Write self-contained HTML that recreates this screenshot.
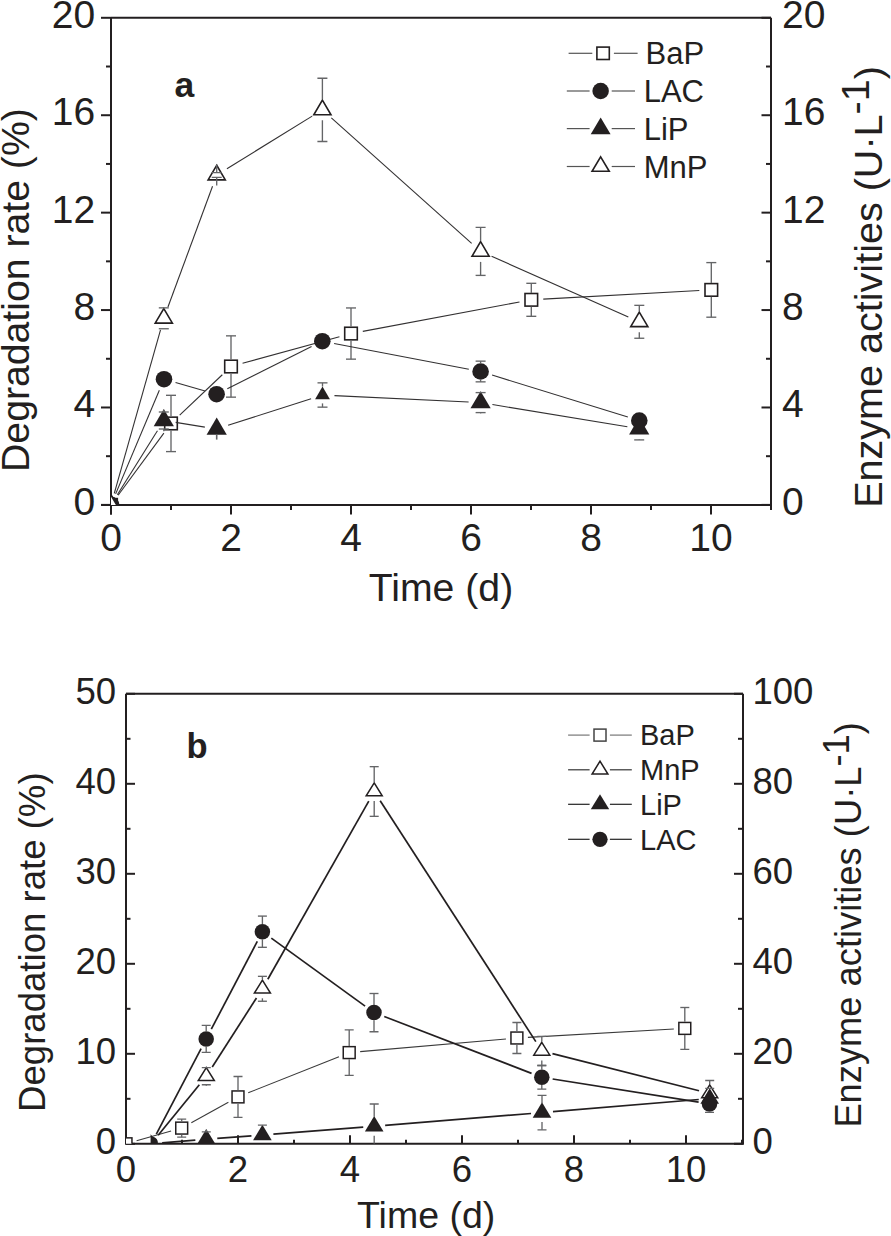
<!DOCTYPE html>
<html><head><meta charset="utf-8"><title>Degradation rate and enzyme activities</title>
<style>html,body{margin:0;padding:0;background:#fff;}svg{display:block;}text{font-family:"Liberation Sans",sans-serif;}</style>
</head><body>
<svg width="891" height="1236" viewBox="0 0 891 1236" font-family="Liberation Sans, sans-serif" fill="#231f20">
<rect width="891" height="1236" fill="#fff"/>
<defs><clipPath id="ca"><rect x="111" y="17.8" width="660" height="487.1"/></clipPath><clipPath id="cb"><rect x="126" y="693.7" width="617" height="450.1"/></clipPath></defs>
<line x1="111" y1="17.8" x2="771" y2="17.8" stroke="#231f20" stroke-width="2.0" />
<line x1="111" y1="17.8" x2="111" y2="514.4" stroke="#231f20" stroke-width="2.0" />
<line x1="771" y1="17.8" x2="771" y2="509.6" stroke="#231f20" stroke-width="2.0" />
<line x1="101.2" y1="504.9" x2="771" y2="504.9" stroke="#231f20" stroke-width="2.0" />
<line x1="101" y1="504.9" x2="111" y2="504.9" stroke="#231f20" stroke-width="2.0" />
<line x1="106" y1="456.19" x2="111" y2="456.19" stroke="#231f20" stroke-width="2.0" />
<line x1="101" y1="407.48" x2="111" y2="407.48" stroke="#231f20" stroke-width="2.0" />
<line x1="106" y1="358.77" x2="111" y2="358.77" stroke="#231f20" stroke-width="2.0" />
<line x1="101" y1="310.06" x2="111" y2="310.06" stroke="#231f20" stroke-width="2.0" />
<line x1="106" y1="261.35" x2="111" y2="261.35" stroke="#231f20" stroke-width="2.0" />
<line x1="101" y1="212.64" x2="111" y2="212.64" stroke="#231f20" stroke-width="2.0" />
<line x1="106" y1="163.93" x2="111" y2="163.93" stroke="#231f20" stroke-width="2.0" />
<line x1="101" y1="115.22" x2="111" y2="115.22" stroke="#231f20" stroke-width="2.0" />
<line x1="106" y1="66.51" x2="111" y2="66.51" stroke="#231f20" stroke-width="2.0" />
<line x1="101" y1="17.8" x2="111" y2="17.8" stroke="#231f20" stroke-width="2.0" />
<line x1="761.5" y1="504.9" x2="771" y2="504.9" stroke="#231f20" stroke-width="2.0" />
<line x1="766" y1="456.19" x2="771" y2="456.19" stroke="#231f20" stroke-width="2.0" />
<line x1="761.5" y1="407.48" x2="771" y2="407.48" stroke="#231f20" stroke-width="2.0" />
<line x1="766" y1="358.77" x2="771" y2="358.77" stroke="#231f20" stroke-width="2.0" />
<line x1="761.5" y1="310.06" x2="771" y2="310.06" stroke="#231f20" stroke-width="2.0" />
<line x1="766" y1="261.35" x2="771" y2="261.35" stroke="#231f20" stroke-width="2.0" />
<line x1="761.5" y1="212.64" x2="771" y2="212.64" stroke="#231f20" stroke-width="2.0" />
<line x1="766" y1="163.93" x2="771" y2="163.93" stroke="#231f20" stroke-width="2.0" />
<line x1="761.5" y1="115.22" x2="771" y2="115.22" stroke="#231f20" stroke-width="2.0" />
<line x1="766" y1="66.51" x2="771" y2="66.51" stroke="#231f20" stroke-width="2.0" />
<line x1="761.5" y1="17.8" x2="771" y2="17.8" stroke="#231f20" stroke-width="2.0" />
<line x1="111" y1="504.9" x2="111" y2="514.4" stroke="#231f20" stroke-width="2.0" />
<line x1="171" y1="504.9" x2="171" y2="509.9" stroke="#231f20" stroke-width="2.0" />
<line x1="231" y1="504.9" x2="231" y2="514.4" stroke="#231f20" stroke-width="2.0" />
<line x1="291" y1="504.9" x2="291" y2="509.9" stroke="#231f20" stroke-width="2.0" />
<line x1="351" y1="504.9" x2="351" y2="514.4" stroke="#231f20" stroke-width="2.0" />
<line x1="411" y1="504.9" x2="411" y2="509.9" stroke="#231f20" stroke-width="2.0" />
<line x1="471" y1="504.9" x2="471" y2="514.4" stroke="#231f20" stroke-width="2.0" />
<line x1="531" y1="504.9" x2="531" y2="509.9" stroke="#231f20" stroke-width="2.0" />
<line x1="591" y1="504.9" x2="591" y2="514.4" stroke="#231f20" stroke-width="2.0" />
<line x1="651" y1="504.9" x2="651" y2="509.9" stroke="#231f20" stroke-width="2.0" />
<line x1="711" y1="504.9" x2="711" y2="514.4" stroke="#231f20" stroke-width="2.0" />
<line x1="771" y1="504.9" x2="771" y2="509.9" stroke="#231f20" stroke-width="2.0" />
<text x="95.2" y="514.86" font-size="39" text-anchor="end">0</text>
<text x="95.2" y="417.44" font-size="39" text-anchor="end">4</text>
<text x="95.2" y="320.02" font-size="39" text-anchor="end">8</text>
<text x="95.2" y="222.6" font-size="39" text-anchor="end">12</text>
<text x="95.2" y="125.18" font-size="39" text-anchor="end">16</text>
<text x="95.2" y="27.76" font-size="39" text-anchor="end">20</text>
<text x="782" y="514.86" font-size="39" text-anchor="start">0</text>
<text x="782" y="417.44" font-size="39" text-anchor="start">4</text>
<text x="782" y="320.02" font-size="39" text-anchor="start">8</text>
<text x="782" y="222.6" font-size="39" text-anchor="start">12</text>
<text x="782" y="125.18" font-size="39" text-anchor="start">16</text>
<text x="782" y="27.76" font-size="39" text-anchor="start">20</text>
<text x="111" y="550.5" font-size="39" text-anchor="middle">0</text>
<text x="231" y="550.5" font-size="39" text-anchor="middle">2</text>
<text x="351" y="550.5" font-size="39" text-anchor="middle">4</text>
<text x="471" y="550.5" font-size="39" text-anchor="middle">6</text>
<text x="591" y="550.5" font-size="39" text-anchor="middle">8</text>
<text x="711" y="550.5" font-size="39" text-anchor="middle">10</text>
<text x="441" y="600.9" font-size="39.2" text-anchor="middle">Time (d)</text>
<text x="28.8" y="290.1" font-size="39.2" text-anchor="middle" transform="rotate(-90 28.8 290.1)">Degradation rate (%)</text>
<text x="882" y="507.8" font-size="39.55" transform="rotate(-90 882 507.8)">Enzyme activities (U·L<tspan dy="-13">-1</tspan><tspan dy="13">)</tspan></text>
<text x="174.5" y="96.5" font-size="35.5" text-anchor="start" font-weight="bold">a</text>
<g clip-path="url(#ca)">
<line x1="118.12" y1="495.24" x2="163.88" y2="433.11" stroke="#333132" stroke-width="1.1" />
<line x1="179.7" y1="415.19" x2="222.3" y2="374.76" stroke="#333132" stroke-width="1.1" />
<line x1="242.57" y1="363.32" x2="339.43" y2="336.73" stroke="#333132" stroke-width="1.1" />
<line x1="362.8" y1="331.34" x2="519.5" y2="302.01" stroke="#333132" stroke-width="1.1" />
<line x1="543.28" y1="299.14" x2="699.32" y2="290.56" stroke="#333132" stroke-width="1.1" />
<rect x="104.7" y="498.6" width="12.6" height="12.6" fill="#fff" stroke="#231f20" stroke-width="1.6"/>
<rect x="164.7" y="417.15" width="12.6" height="12.6" fill="#fff" stroke="#231f20" stroke-width="1.6"/>
<rect x="224.7" y="360.2" width="12.6" height="12.6" fill="#fff" stroke="#231f20" stroke-width="1.6"/>
<rect x="344.7" y="327.25" width="12.6" height="12.6" fill="#fff" stroke="#231f20" stroke-width="1.6"/>
<rect x="525" y="293.5" width="12.6" height="12.6" fill="#fff" stroke="#231f20" stroke-width="1.6"/>
<rect x="705" y="283.6" width="12.6" height="12.6" fill="#fff" stroke="#231f20" stroke-width="1.6"/>
<line x1="171" y1="416.55" x2="171" y2="395.3" stroke="#646567" stroke-width="1.35" />
<line x1="166" y1="395.3" x2="176" y2="395.3" stroke="#646567" stroke-width="1.35" />
<line x1="171" y1="430.35" x2="171" y2="451.6" stroke="#646567" stroke-width="1.35" />
<line x1="166" y1="451.6" x2="176" y2="451.6" stroke="#646567" stroke-width="1.35" />
<line x1="231" y1="359.6" x2="231" y2="335.85" stroke="#646567" stroke-width="1.35" />
<line x1="226" y1="335.85" x2="236" y2="335.85" stroke="#646567" stroke-width="1.35" />
<line x1="231" y1="373.4" x2="231" y2="397.15" stroke="#646567" stroke-width="1.35" />
<line x1="226" y1="397.15" x2="236" y2="397.15" stroke="#646567" stroke-width="1.35" />
<line x1="351" y1="326.65" x2="351" y2="307.95" stroke="#646567" stroke-width="1.35" />
<line x1="346" y1="307.95" x2="356" y2="307.95" stroke="#646567" stroke-width="1.35" />
<line x1="351" y1="340.45" x2="351" y2="359.15" stroke="#646567" stroke-width="1.35" />
<line x1="346" y1="359.15" x2="356" y2="359.15" stroke="#646567" stroke-width="1.35" />
<line x1="531.3" y1="292.9" x2="531.3" y2="283.3" stroke="#646567" stroke-width="1.35" />
<line x1="526.3" y1="283.3" x2="536.3" y2="283.3" stroke="#646567" stroke-width="1.35" />
<line x1="531.3" y1="306.7" x2="531.3" y2="316.3" stroke="#646567" stroke-width="1.35" />
<line x1="526.3" y1="316.3" x2="536.3" y2="316.3" stroke="#646567" stroke-width="1.35" />
<line x1="711.3" y1="283" x2="711.3" y2="262.6" stroke="#646567" stroke-width="1.35" />
<line x1="706.3" y1="262.6" x2="716.3" y2="262.6" stroke="#646567" stroke-width="1.35" />
<line x1="711.3" y1="296.8" x2="711.3" y2="317.2" stroke="#646567" stroke-width="1.35" />
<line x1="706.3" y1="317.2" x2="716.3" y2="317.2" stroke="#646567" stroke-width="1.35" />
<line x1="115.66" y1="493.84" x2="159.34" y2="390.26" stroke="#333132" stroke-width="1.1" />
<line x1="175.54" y1="382.49" x2="205.06" y2="390.91" stroke="#333132" stroke-width="1.1" />
<line x1="227.33" y1="388.82" x2="311.57" y2="346.58" stroke="#333132" stroke-width="1.1" />
<line x1="334.09" y1="343.46" x2="468.81" y2="369.24" stroke="#333132" stroke-width="1.1" />
<line x1="492.07" y1="375.04" x2="627.83" y2="416.96" stroke="#333132" stroke-width="1.1" />
<circle cx="111" cy="504.9" r="8.3" fill="#231f20"/>
<circle cx="164" cy="379.2" r="8.3" fill="#231f20"/>
<circle cx="216.6" cy="394.2" r="8.3" fill="#231f20"/>
<circle cx="322.3" cy="341.2" r="8.3" fill="#231f20"/>
<circle cx="480.6" cy="371.5" r="8.3" fill="#231f20"/>
<circle cx="639.3" cy="420.5" r="8.3" fill="#231f20"/>
<line x1="480.6" y1="363.3" x2="480.6" y2="361.15" stroke="#646567" stroke-width="1.35" />
<line x1="475.6" y1="361.15" x2="485.6" y2="361.15" stroke="#646567" stroke-width="1.35" />
<line x1="480.6" y1="379.7" x2="480.6" y2="381.85" stroke="#646567" stroke-width="1.35" />
<line x1="475.6" y1="381.85" x2="485.6" y2="381.85" stroke="#646567" stroke-width="1.35" />
<line x1="117.36" y1="494.73" x2="157.44" y2="430.67" stroke="#333132" stroke-width="1.1" />
<line x1="175.65" y1="422.4" x2="204.85" y2="427.1" stroke="#333132" stroke-width="1.1" />
<line x1="228.12" y1="425.33" x2="311.08" y2="398.67" stroke="#333132" stroke-width="1.1" />
<line x1="334.49" y1="395.58" x2="468.61" y2="402.02" stroke="#333132" stroke-width="1.1" />
<line x1="492.44" y1="404.55" x2="627.36" y2="426.75" stroke="#333132" stroke-width="1.1" />
<polygon points="111,493.43 121.1,510.63 100.9,510.63" fill="#231f20"/>
<polygon points="163.8,409.03 173.9,426.23 153.7,426.23" fill="#231f20"/>
<polygon points="216.7,417.53 226.8,434.73 206.6,434.73" fill="#231f20"/>
<polygon points="322.5,386.6 329.9,399.2 315.1,399.2" fill="#231f20"/>
<polygon points="480.6,391.13 490.7,408.33 470.5,408.33" fill="#231f20"/>
<polygon points="639.2,417.23 649.3,434.43 629.1,434.43" fill="#231f20"/>
<line x1="163.8" y1="409.7" x2="163.8" y2="412" stroke="#646567" stroke-width="1.35" />
<line x1="158.8" y1="412" x2="168.8" y2="412" stroke="#646567" stroke-width="1.35" />
<line x1="163.8" y1="431.3" x2="163.8" y2="429" stroke="#646567" stroke-width="1.35" />
<line x1="158.8" y1="429" x2="168.8" y2="429" stroke="#646567" stroke-width="1.35" />
<line x1="322.5" y1="386.6" x2="322.5" y2="382.85" stroke="#646567" stroke-width="1.35" />
<line x1="317.5" y1="382.85" x2="327.5" y2="382.85" stroke="#646567" stroke-width="1.35" />
<line x1="322.5" y1="403.4" x2="322.5" y2="407.15" stroke="#646567" stroke-width="1.35" />
<line x1="317.5" y1="407.15" x2="327.5" y2="407.15" stroke="#646567" stroke-width="1.35" />
<line x1="480.6" y1="391.8" x2="480.6" y2="392.6" stroke="#646567" stroke-width="1.35" />
<line x1="475.6" y1="392.6" x2="485.6" y2="392.6" stroke="#646567" stroke-width="1.35" />
<line x1="480.6" y1="413.4" x2="480.6" y2="412.6" stroke="#646567" stroke-width="1.35" />
<line x1="475.6" y1="412.6" x2="485.6" y2="412.6" stroke="#646567" stroke-width="1.35" />
<line x1="639.2" y1="439.5" x2="639.2" y2="439.9" stroke="#646567" stroke-width="1.35" />
<line x1="634.2" y1="439.9" x2="644.2" y2="439.9" stroke="#646567" stroke-width="1.35" />
<line x1="216.7" y1="434.6" x2="216.7" y2="439.6" stroke="#646567" stroke-width="1.6" />
<line x1="114.27" y1="493.35" x2="160.53" y2="329.85" stroke="#333132" stroke-width="1.1" />
<line x1="167.96" y1="307.04" x2="212.54" y2="186.26" stroke="#333132" stroke-width="1.1" />
<line x1="226.92" y1="168.7" x2="312.18" y2="116.15" stroke="#333132" stroke-width="1.1" />
<line x1="331.34" y1="117.85" x2="471.66" y2="243.4" stroke="#333132" stroke-width="1.1" />
<line x1="491.57" y1="256.27" x2="628.33" y2="316.93" stroke="#333132" stroke-width="1.1" />
<polygon points="111,495.17 119.59,509.77 102.41,509.77" fill="#fff" stroke="#231f20" stroke-width="1.6" stroke-linejoin="miter"/>
<polygon points="163.8,308.57 172.39,323.17 155.21,323.17" fill="#fff" stroke="#231f20" stroke-width="1.6" stroke-linejoin="miter"/>
<polygon points="216.7,165.27 225.29,179.87 208.11,179.87" fill="#fff" stroke="#231f20" stroke-width="1.6" stroke-linejoin="miter"/>
<polygon points="322.4,100.12 330.99,114.72 313.81,114.72" fill="#fff" stroke="#231f20" stroke-width="1.6" stroke-linejoin="miter"/>
<polygon points="480.6,241.67 489.19,256.27 472.01,256.27" fill="#fff" stroke="#231f20" stroke-width="1.6" stroke-linejoin="miter"/>
<polygon points="639.3,312.07 647.89,326.67 630.71,326.67" fill="#fff" stroke="#231f20" stroke-width="1.6" stroke-linejoin="miter"/>
<line x1="163.8" y1="307.8" x2="163.8" y2="307.85" stroke="#646567" stroke-width="1.35" />
<line x1="158.8" y1="307.85" x2="168.8" y2="307.85" stroke="#646567" stroke-width="1.35" />
<line x1="163.8" y1="328.8" x2="163.8" y2="328.75" stroke="#646567" stroke-width="1.35" />
<line x1="158.8" y1="328.75" x2="168.8" y2="328.75" stroke="#646567" stroke-width="1.35" />
<line x1="216.7" y1="164.5" x2="216.7" y2="172.6" stroke="#646567" stroke-width="1.35" />
<line x1="211.7" y1="172.6" x2="221.7" y2="172.6" stroke="#646567" stroke-width="1.35" />
<line x1="216.7" y1="185.5" x2="216.7" y2="177.4" stroke="#646567" stroke-width="1.35" />
<line x1="211.7" y1="177.4" x2="221.7" y2="177.4" stroke="#646567" stroke-width="1.35" />
<line x1="322.4" y1="99.35" x2="322.4" y2="78.2" stroke="#646567" stroke-width="1.35" />
<line x1="317.4" y1="78.2" x2="327.4" y2="78.2" stroke="#646567" stroke-width="1.35" />
<line x1="322.4" y1="120.35" x2="322.4" y2="141.5" stroke="#646567" stroke-width="1.35" />
<line x1="317.4" y1="141.5" x2="327.4" y2="141.5" stroke="#646567" stroke-width="1.35" />
<line x1="480.6" y1="240.9" x2="480.6" y2="227.4" stroke="#646567" stroke-width="1.35" />
<line x1="475.6" y1="227.4" x2="485.6" y2="227.4" stroke="#646567" stroke-width="1.35" />
<line x1="480.6" y1="261.9" x2="480.6" y2="275.4" stroke="#646567" stroke-width="1.35" />
<line x1="475.6" y1="275.4" x2="485.6" y2="275.4" stroke="#646567" stroke-width="1.35" />
<line x1="639.3" y1="311.3" x2="639.3" y2="305.35" stroke="#646567" stroke-width="1.35" />
<line x1="634.3" y1="305.35" x2="644.3" y2="305.35" stroke="#646567" stroke-width="1.35" />
<line x1="639.3" y1="332.3" x2="639.3" y2="338.25" stroke="#646567" stroke-width="1.35" />
<line x1="634.3" y1="338.25" x2="644.3" y2="338.25" stroke="#646567" stroke-width="1.35" />
</g>
<line x1="568.6" y1="53.3" x2="592.3" y2="53.3" stroke="#555" stroke-width="1.2" />
<line x1="613.9" y1="53.3" x2="637.6" y2="53.3" stroke="#555" stroke-width="1.2" />
<rect x="596.9" y="47.1" width="12.4" height="12.4" fill="#fff" stroke="#231f20" stroke-width="1.6"/>
<text x="645.5" y="64.4" font-size="31" text-anchor="start">BaP</text>
<line x1="566.8" y1="91" x2="589.6" y2="91" stroke="#555" stroke-width="1.2" />
<line x1="611.7" y1="91" x2="635" y2="91" stroke="#555" stroke-width="1.2" />
<circle cx="600.65" cy="91" r="8.25" fill="#231f20"/>
<text x="643.7" y="102.1" font-size="31" text-anchor="start">LAC</text>
<line x1="566.8" y1="128.6" x2="589.6" y2="128.6" stroke="#555" stroke-width="1.2" />
<line x1="611.7" y1="128.6" x2="635" y2="128.6" stroke="#555" stroke-width="1.2" />
<polygon points="600.65,117.53 610.6,134.13 590.7,134.13" fill="#231f20"/>
<text x="643.7" y="139.7" font-size="31" text-anchor="start">LiP</text>
<line x1="566.8" y1="166.5" x2="589.6" y2="166.5" stroke="#555" stroke-width="1.2" />
<line x1="611.7" y1="166.5" x2="635" y2="166.5" stroke="#555" stroke-width="1.2" />
<polygon points="600.65,156.9 609.24,171.3 592.06,171.3" fill="#fff" stroke="#231f20" stroke-width="1.6" stroke-linejoin="miter"/>
<text x="643.7" y="177.6" font-size="31" text-anchor="start">MnP</text>
<line x1="126" y1="693.7" x2="743" y2="693.7" stroke="#231f20" stroke-width="2.0" />
<line x1="126" y1="693.7" x2="126" y2="1143.8" stroke="#231f20" stroke-width="2.0" />
<line x1="743" y1="693.7" x2="743" y2="1143.8" stroke="#231f20" stroke-width="2.0" />
<line x1="125" y1="1143.8" x2="744" y2="1143.8" stroke="#231f20" stroke-width="2.0" />
<line x1="126" y1="1143.8" x2="135" y2="1143.8" stroke="#231f20" stroke-width="2.0" />
<line x1="126" y1="1098.8" x2="130.5" y2="1098.8" stroke="#231f20" stroke-width="2.0" />
<line x1="126" y1="1053.8" x2="135" y2="1053.8" stroke="#231f20" stroke-width="2.0" />
<line x1="126" y1="1008.8" x2="130.5" y2="1008.8" stroke="#231f20" stroke-width="2.0" />
<line x1="126" y1="963.8" x2="135" y2="963.8" stroke="#231f20" stroke-width="2.0" />
<line x1="126" y1="918.8" x2="130.5" y2="918.8" stroke="#231f20" stroke-width="2.0" />
<line x1="126" y1="873.8" x2="135" y2="873.8" stroke="#231f20" stroke-width="2.0" />
<line x1="126" y1="828.8" x2="130.5" y2="828.8" stroke="#231f20" stroke-width="2.0" />
<line x1="126" y1="783.8" x2="135" y2="783.8" stroke="#231f20" stroke-width="2.0" />
<line x1="126" y1="738.8" x2="130.5" y2="738.8" stroke="#231f20" stroke-width="2.0" />
<line x1="126" y1="693.8" x2="135" y2="693.8" stroke="#231f20" stroke-width="2.0" />
<line x1="734" y1="1143.8" x2="743" y2="1143.8" stroke="#231f20" stroke-width="2.0" />
<line x1="738" y1="1098.8" x2="743" y2="1098.8" stroke="#231f20" stroke-width="2.0" />
<line x1="734" y1="1053.8" x2="743" y2="1053.8" stroke="#231f20" stroke-width="2.0" />
<line x1="738" y1="1008.8" x2="743" y2="1008.8" stroke="#231f20" stroke-width="2.0" />
<line x1="734" y1="963.8" x2="743" y2="963.8" stroke="#231f20" stroke-width="2.0" />
<line x1="738" y1="918.8" x2="743" y2="918.8" stroke="#231f20" stroke-width="2.0" />
<line x1="734" y1="873.8" x2="743" y2="873.8" stroke="#231f20" stroke-width="2.0" />
<line x1="738" y1="828.8" x2="743" y2="828.8" stroke="#231f20" stroke-width="2.0" />
<line x1="734" y1="783.8" x2="743" y2="783.8" stroke="#231f20" stroke-width="2.0" />
<line x1="738" y1="738.8" x2="743" y2="738.8" stroke="#231f20" stroke-width="2.0" />
<line x1="734" y1="693.8" x2="743" y2="693.8" stroke="#231f20" stroke-width="2.0" />
<line x1="126" y1="1143.8" x2="126" y2="1135.3" stroke="#231f20" stroke-width="2.0" />
<line x1="182" y1="1143.8" x2="182" y2="1139.8" stroke="#231f20" stroke-width="2.0" />
<line x1="238" y1="1143.8" x2="238" y2="1135.3" stroke="#231f20" stroke-width="2.0" />
<line x1="294" y1="1143.8" x2="294" y2="1139.8" stroke="#231f20" stroke-width="2.0" />
<line x1="350" y1="1143.8" x2="350" y2="1135.3" stroke="#231f20" stroke-width="2.0" />
<line x1="406" y1="1143.8" x2="406" y2="1139.8" stroke="#231f20" stroke-width="2.0" />
<line x1="462" y1="1143.8" x2="462" y2="1135.3" stroke="#231f20" stroke-width="2.0" />
<line x1="518" y1="1143.8" x2="518" y2="1139.8" stroke="#231f20" stroke-width="2.0" />
<line x1="574" y1="1143.8" x2="574" y2="1135.3" stroke="#231f20" stroke-width="2.0" />
<line x1="630" y1="1143.8" x2="630" y2="1139.8" stroke="#231f20" stroke-width="2.0" />
<line x1="686" y1="1143.8" x2="686" y2="1135.3" stroke="#231f20" stroke-width="2.0" />
<line x1="742" y1="1143.8" x2="742" y2="1139.8" stroke="#231f20" stroke-width="2.0" />
<text x="116.1" y="1153.9" font-size="36.6" text-anchor="end">0</text>
<text x="116.1" y="1063.9" font-size="36.6" text-anchor="end">10</text>
<text x="116.1" y="973.9" font-size="36.6" text-anchor="end">20</text>
<text x="116.1" y="883.9" font-size="36.6" text-anchor="end">30</text>
<text x="116.1" y="793.9" font-size="36.6" text-anchor="end">40</text>
<text x="116.1" y="703.9" font-size="36.6" text-anchor="end">50</text>
<text x="752.4" y="1153.9" font-size="36.6" text-anchor="start">0</text>
<text x="752.4" y="1063.9" font-size="36.6" text-anchor="start">20</text>
<text x="752.4" y="973.9" font-size="36.6" text-anchor="start">40</text>
<text x="752.4" y="883.9" font-size="36.6" text-anchor="start">60</text>
<text x="752.4" y="793.9" font-size="36.6" text-anchor="start">80</text>
<text x="752.4" y="703.9" font-size="36.6" text-anchor="start">100</text>
<text x="126" y="1182.1" font-size="36.6" text-anchor="middle">0</text>
<text x="238" y="1182.1" font-size="36.6" text-anchor="middle">2</text>
<text x="350" y="1182.1" font-size="36.6" text-anchor="middle">4</text>
<text x="462" y="1182.1" font-size="36.6" text-anchor="middle">6</text>
<text x="574" y="1182.1" font-size="36.6" text-anchor="middle">8</text>
<text x="686" y="1182.1" font-size="36.6" text-anchor="middle">10</text>
<text x="426.2" y="1228.1" font-size="37.5" text-anchor="middle">Time (d)</text>
<text x="45" y="942.2" font-size="36.6" text-anchor="middle" transform="rotate(-90 45 942.2)">Degradation rate (%)</text>
<text x="861.2" y="1127.6" font-size="36.3" transform="rotate(-90 861.2 1127.6)">Enzyme activities (U·L<tspan dy="-12">-1</tspan><tspan dy="12">)</tspan></text>
<text x="186.5" y="758" font-size="34.5" text-anchor="start" font-weight="bold">b</text>
<g clip-path="url(#cb)">
<line x1="136.59" y1="1140.82" x2="171.11" y2="1131.08" stroke="#3a3a3a" stroke-width="1.1" />
<line x1="191.32" y1="1122.77" x2="228.38" y2="1102.23" stroke="#3a3a3a" stroke-width="1.1" />
<line x1="248.22" y1="1092.83" x2="338.98" y2="1056.67" stroke="#3a3a3a" stroke-width="1.1" />
<line x1="360.16" y1="1051.65" x2="505.94" y2="1038.95" stroke="#3a3a3a" stroke-width="1.1" />
<line x1="527.88" y1="1037.37" x2="673.82" y2="1029.03" stroke="#3a3a3a" stroke-width="1.1" />
<rect x="120.05" y="1137.85" width="11.9" height="11.9" fill="#fff" stroke="#231f20" stroke-width="1.5"/>
<rect x="175.75" y="1122.15" width="11.9" height="11.9" fill="#fff" stroke="#231f20" stroke-width="1.5"/>
<rect x="232.05" y="1090.95" width="11.9" height="11.9" fill="#fff" stroke="#231f20" stroke-width="1.5"/>
<rect x="343.25" y="1046.65" width="11.9" height="11.9" fill="#fff" stroke="#231f20" stroke-width="1.5"/>
<rect x="510.95" y="1032.05" width="11.9" height="11.9" fill="#fff" stroke="#231f20" stroke-width="1.5"/>
<rect x="678.85" y="1022.45" width="11.9" height="11.9" fill="#fff" stroke="#231f20" stroke-width="1.5"/>
<line x1="181.7" y1="1121.5" x2="181.7" y2="1119.05" stroke="#646567" stroke-width="1.35" />
<line x1="177.2" y1="1119.05" x2="186.2" y2="1119.05" stroke="#646567" stroke-width="1.35" />
<line x1="181.7" y1="1134.7" x2="181.7" y2="1137.15" stroke="#646567" stroke-width="1.35" />
<line x1="177.2" y1="1137.15" x2="186.2" y2="1137.15" stroke="#646567" stroke-width="1.35" />
<line x1="238" y1="1090.3" x2="238" y2="1076.5" stroke="#646567" stroke-width="1.35" />
<line x1="233.5" y1="1076.5" x2="242.5" y2="1076.5" stroke="#646567" stroke-width="1.35" />
<line x1="238" y1="1103.5" x2="238" y2="1117.3" stroke="#646567" stroke-width="1.35" />
<line x1="233.5" y1="1117.3" x2="242.5" y2="1117.3" stroke="#646567" stroke-width="1.35" />
<line x1="349.2" y1="1046" x2="349.2" y2="1029.9" stroke="#646567" stroke-width="1.35" />
<line x1="344.7" y1="1029.9" x2="353.7" y2="1029.9" stroke="#646567" stroke-width="1.35" />
<line x1="349.2" y1="1059.2" x2="349.2" y2="1075.3" stroke="#646567" stroke-width="1.35" />
<line x1="344.7" y1="1075.3" x2="353.7" y2="1075.3" stroke="#646567" stroke-width="1.35" />
<line x1="516.9" y1="1031.4" x2="516.9" y2="1022.5" stroke="#646567" stroke-width="1.35" />
<line x1="512.4" y1="1022.5" x2="521.4" y2="1022.5" stroke="#646567" stroke-width="1.35" />
<line x1="516.9" y1="1044.6" x2="516.9" y2="1053.5" stroke="#646567" stroke-width="1.35" />
<line x1="512.4" y1="1053.5" x2="521.4" y2="1053.5" stroke="#646567" stroke-width="1.35" />
<line x1="684.8" y1="1021.8" x2="684.8" y2="1007.5" stroke="#646567" stroke-width="1.35" />
<line x1="680.3" y1="1007.5" x2="689.3" y2="1007.5" stroke="#646567" stroke-width="1.35" />
<line x1="684.8" y1="1035" x2="684.8" y2="1049.3" stroke="#646567" stroke-width="1.35" />
<line x1="680.3" y1="1049.3" x2="689.3" y2="1049.3" stroke="#646567" stroke-width="1.35" />
<line x1="158.15" y1="1135.27" x2="199.35" y2="1084.73" stroke="#231f20" stroke-width="1.7" />
<line x1="212.24" y1="1066.94" x2="256.46" y2="998.06" stroke="#231f20" stroke-width="1.7" />
<line x1="267.82" y1="979.23" x2="368.78" y2="801.07" stroke="#231f20" stroke-width="1.7" />
<line x1="380.17" y1="800.74" x2="535.83" y2="1041.66" stroke="#231f20" stroke-width="1.7" />
<line x1="552.46" y1="1053.61" x2="699.04" y2="1090.79" stroke="#231f20" stroke-width="1.7" />
<polygon points="206.3,1067.57 214.33,1080.52 198.28,1080.52" fill="#fff" stroke="#231f20" stroke-width="1.5" stroke-linejoin="miter"/>
<polygon points="262.4,980.17 270.42,993.12 254.37,993.12" fill="#fff" stroke="#231f20" stroke-width="1.5" stroke-linejoin="miter"/>
<polygon points="374.2,782.87 382.22,795.82 366.18,795.82" fill="#fff" stroke="#231f20" stroke-width="1.5" stroke-linejoin="miter"/>
<polygon points="541.8,1042.27 549.82,1055.22 533.77,1055.22" fill="#fff" stroke="#231f20" stroke-width="1.5" stroke-linejoin="miter"/>
<polygon points="709.7,1084.87 717.73,1097.82 701.68,1097.82" fill="#fff" stroke="#231f20" stroke-width="1.5" stroke-linejoin="miter"/>
<line x1="206.3" y1="1066.7" x2="206.3" y2="1067.65" stroke="#646567" stroke-width="1.35" />
<line x1="201.8" y1="1067.65" x2="210.8" y2="1067.65" stroke="#646567" stroke-width="1.35" />
<line x1="206.3" y1="1085.7" x2="206.3" y2="1084.75" stroke="#646567" stroke-width="1.35" />
<line x1="201.8" y1="1084.75" x2="210.8" y2="1084.75" stroke="#646567" stroke-width="1.35" />
<line x1="262.4" y1="979.3" x2="262.4" y2="976.35" stroke="#646567" stroke-width="1.35" />
<line x1="257.9" y1="976.35" x2="266.9" y2="976.35" stroke="#646567" stroke-width="1.35" />
<line x1="262.4" y1="998.3" x2="262.4" y2="1001.25" stroke="#646567" stroke-width="1.35" />
<line x1="257.9" y1="1001.25" x2="266.9" y2="1001.25" stroke="#646567" stroke-width="1.35" />
<line x1="374.2" y1="782" x2="374.2" y2="766.65" stroke="#646567" stroke-width="1.35" />
<line x1="369.7" y1="766.65" x2="378.7" y2="766.65" stroke="#646567" stroke-width="1.35" />
<line x1="374.2" y1="801" x2="374.2" y2="816.35" stroke="#646567" stroke-width="1.35" />
<line x1="369.7" y1="816.35" x2="378.7" y2="816.35" stroke="#646567" stroke-width="1.35" />
<line x1="541.8" y1="1041.4" x2="541.8" y2="1036.3" stroke="#646567" stroke-width="1.35" />
<line x1="537.3" y1="1036.3" x2="546.3" y2="1036.3" stroke="#646567" stroke-width="1.35" />
<line x1="541.8" y1="1060.4" x2="541.8" y2="1065.5" stroke="#646567" stroke-width="1.35" />
<line x1="537.3" y1="1065.5" x2="546.3" y2="1065.5" stroke="#646567" stroke-width="1.35" />
<line x1="709.7" y1="1084" x2="709.7" y2="1080.5" stroke="#646567" stroke-width="1.35" />
<line x1="705.2" y1="1080.5" x2="714.2" y2="1080.5" stroke="#646567" stroke-width="1.35" />
<line x1="162.16" y1="1142.88" x2="195.34" y2="1140.12" stroke="#231f20" stroke-width="1.7" />
<line x1="217.27" y1="1138.38" x2="251.43" y2="1135.82" stroke="#231f20" stroke-width="1.7" />
<line x1="273.37" y1="1134.15" x2="363.23" y2="1127.15" stroke="#231f20" stroke-width="1.7" />
<line x1="385.16" y1="1125.4" x2="531.04" y2="1113.5" stroke="#231f20" stroke-width="1.7" />
<line x1="552.96" y1="1111.68" x2="698.74" y2="1099.52" stroke="#231f20" stroke-width="1.7" />
<polygon points="206.3,1128.93 215.6,1144.33 197,1144.33" fill="#231f20"/>
<polygon points="262.4,1124.73 271.7,1140.13 253.1,1140.13" fill="#231f20"/>
<polygon points="374.2,1116.03 383.5,1131.43 364.9,1131.43" fill="#231f20"/>
<polygon points="542,1102.33 551.3,1117.73 532.7,1117.73" fill="#231f20"/>
<polygon points="709.7,1088.33 719,1103.73 700.4,1103.73" fill="#231f20"/>
<line x1="206.3" y1="1129.7" x2="206.3" y2="1131.9" stroke="#646567" stroke-width="1.35" />
<line x1="201.8" y1="1131.9" x2="210.8" y2="1131.9" stroke="#646567" stroke-width="1.35" />
<line x1="262.4" y1="1125.5" x2="262.4" y2="1125.1" stroke="#646567" stroke-width="1.35" />
<line x1="257.9" y1="1125.1" x2="266.9" y2="1125.1" stroke="#646567" stroke-width="1.35" />
<line x1="374.2" y1="1116.8" x2="374.2" y2="1104" stroke="#646567" stroke-width="1.35" />
<line x1="369.7" y1="1104" x2="378.7" y2="1104" stroke="#646567" stroke-width="1.35" />
<line x1="374.2" y1="1135.8" x2="374.2" y2="1143.8" stroke="#646567" stroke-width="1.35" />
<line x1="542" y1="1103.1" x2="542" y2="1095.4" stroke="#646567" stroke-width="1.35" />
<line x1="537.5" y1="1095.4" x2="546.5" y2="1095.4" stroke="#646567" stroke-width="1.35" />
<line x1="542" y1="1122.1" x2="542" y2="1129.8" stroke="#646567" stroke-width="1.35" />
<line x1="537.5" y1="1129.8" x2="546.5" y2="1129.8" stroke="#646567" stroke-width="1.35" />
<line x1="709.7" y1="1089.1" x2="709.7" y2="1088.4" stroke="#646567" stroke-width="1.35" />
<line x1="705.2" y1="1088.4" x2="714.2" y2="1088.4" stroke="#646567" stroke-width="1.35" />
<line x1="156.31" y1="1134.06" x2="201.09" y2="1048.64" stroke="#231f20" stroke-width="1.7" />
<line x1="211.31" y1="1029.16" x2="257.29" y2="941.44" stroke="#231f20" stroke-width="1.7" />
<line x1="271.31" y1="938.16" x2="365.09" y2="1006.14" stroke="#231f20" stroke-width="1.7" />
<line x1="384.26" y1="1016.56" x2="531.54" y2="1073.34" stroke="#231f20" stroke-width="1.7" />
<line x1="552.66" y1="1079.02" x2="698.64" y2="1102.18" stroke="#231f20" stroke-width="1.7" />
<circle cx="206.2" cy="1038.9" r="7.75" fill="#231f20"/>
<circle cx="262.4" cy="931.7" r="7.75" fill="#231f20"/>
<circle cx="374" cy="1012.6" r="7.75" fill="#231f20"/>
<circle cx="541.8" cy="1077.3" r="7.75" fill="#231f20"/>
<circle cx="709.5" cy="1103.9" r="7.75" fill="#231f20"/>
<line x1="206.2" y1="1031.3" x2="206.2" y2="1025.4" stroke="#646567" stroke-width="1.35" />
<line x1="201.7" y1="1025.4" x2="210.7" y2="1025.4" stroke="#646567" stroke-width="1.35" />
<line x1="206.2" y1="1046.5" x2="206.2" y2="1052.4" stroke="#646567" stroke-width="1.35" />
<line x1="201.7" y1="1052.4" x2="210.7" y2="1052.4" stroke="#646567" stroke-width="1.35" />
<line x1="262.4" y1="924.1" x2="262.4" y2="916.1" stroke="#646567" stroke-width="1.35" />
<line x1="257.9" y1="916.1" x2="266.9" y2="916.1" stroke="#646567" stroke-width="1.35" />
<line x1="262.4" y1="939.3" x2="262.4" y2="947.3" stroke="#646567" stroke-width="1.35" />
<line x1="257.9" y1="947.3" x2="266.9" y2="947.3" stroke="#646567" stroke-width="1.35" />
<line x1="374" y1="1005" x2="374" y2="993.5" stroke="#646567" stroke-width="1.35" />
<line x1="369.5" y1="993.5" x2="378.5" y2="993.5" stroke="#646567" stroke-width="1.35" />
<line x1="374" y1="1020.2" x2="374" y2="1031.7" stroke="#646567" stroke-width="1.35" />
<line x1="369.5" y1="1031.7" x2="378.5" y2="1031.7" stroke="#646567" stroke-width="1.35" />
<line x1="541.8" y1="1069.7" x2="541.8" y2="1065.5" stroke="#646567" stroke-width="1.35" />
<line x1="537.3" y1="1065.5" x2="546.3" y2="1065.5" stroke="#646567" stroke-width="1.35" />
<line x1="541.8" y1="1084.9" x2="541.8" y2="1089.1" stroke="#646567" stroke-width="1.35" />
<line x1="537.3" y1="1089.1" x2="546.3" y2="1089.1" stroke="#646567" stroke-width="1.35" />
<line x1="709.5" y1="1111.5" x2="709.5" y2="1112.4" stroke="#646567" stroke-width="1.35" />
<line x1="705" y1="1112.4" x2="714" y2="1112.4" stroke="#646567" stroke-width="1.35" />
<path d="M150.6,1134.3 L152.5,1136.6 A7.2,7.2 0 0 1 158,1143.8 L150.6,1143.8 Z" fill="#231f20"/>
</g>
<line x1="568.1" y1="735.1" x2="589.6" y2="735.1" stroke="#777" stroke-width="1.2" />
<line x1="609.9" y1="735.1" x2="631.8" y2="735.1" stroke="#777" stroke-width="1.2" />
<rect x="594" y="729.1" width="12" height="12" fill="#fff" stroke="#444" stroke-width="1.5"/>
<text x="640" y="745.48" font-size="29" text-anchor="start">BaP</text>
<line x1="568.1" y1="769.8" x2="589.6" y2="769.8" stroke="#333" stroke-width="1.2" />
<line x1="609.9" y1="769.8" x2="631.8" y2="769.8" stroke="#333" stroke-width="1.2" />
<polygon points="600,761.17 607.92,774.12 592.08,774.12" fill="#fff" stroke="#231f20" stroke-width="1.5" stroke-linejoin="miter"/>
<text x="640" y="780.18" font-size="29" text-anchor="start">MnP</text>
<line x1="568.1" y1="804.3" x2="589.6" y2="804.3" stroke="#222" stroke-width="1.2" />
<line x1="609.9" y1="804.3" x2="631.8" y2="804.3" stroke="#222" stroke-width="1.2" />
<polygon points="600,794.17 609.2,809.37 590.8,809.37" fill="#231f20"/>
<text x="640" y="814.68" font-size="29" text-anchor="start">LiP</text>
<line x1="568.1" y1="839.3" x2="589.6" y2="839.3" stroke="#222" stroke-width="1.2" />
<line x1="609.9" y1="839.3" x2="631.8" y2="839.3" stroke="#222" stroke-width="1.2" />
<circle cx="600" cy="839.3" r="7.65" fill="#231f20"/>
<text x="640" y="849.68" font-size="29" text-anchor="start">LAC</text>
</svg>
</body></html>
